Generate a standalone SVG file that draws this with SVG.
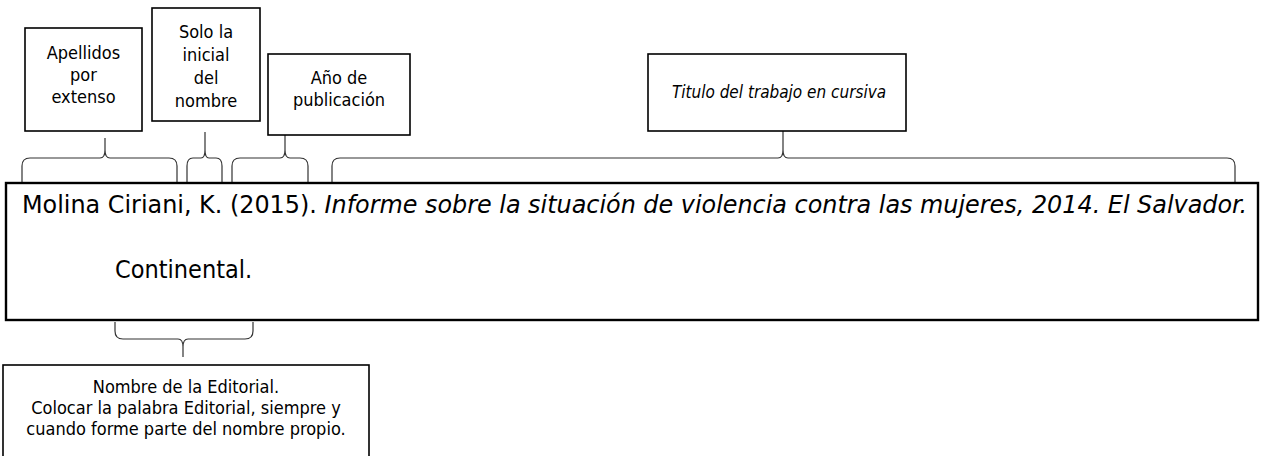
<svg xmlns="http://www.w3.org/2000/svg" width="1262" height="456" viewBox="0 0 1262 456">
<style>
.box{fill:#fff;stroke:#000;stroke-width:1.6}
.main{fill:#fff;stroke:#000;stroke-width:2.4}
.lbl{font-family:"DejaVu Sans Condensed","DejaVu Sans",sans-serif;font-size:18px;fill:#000;text-anchor:middle}
.ed{font-size:18px}
.ti{font-size:17px;font-style:italic}
.it{font-style:italic}
.brace{fill:none;stroke:#333;stroke-width:1.2}
.txt{font-family:"DejaVu Sans Condensed","DejaVu Sans",sans-serif;font-size:25px;fill:#000}
</style>
<rect width="1262" height="456" fill="#fff"/>
<g id="connectors">
<path class="brace" d="M22,182 L22,166 Q22,158 30,158 L100,158 Q105,158 105,150 L105,138 M105,150 Q105,158 110,158 L169,158 Q177,158 177,166 L177,182"/>
<path class="brace" d="M187,182 L187,166 Q187,158 193,158 L201,158 Q205,158 205,150 L205,132 M205,150 Q205,158 209,158 L216,158 Q222,158 222,166 L222,182"/>
<path class="brace" d="M232,182 L232,166 Q232,158 240,158 L280,158 Q285,158 285,150 L285,135 M285,150 Q285,158 290,158 L300,158 Q308,158 308,166 L308,182"/>
<path class="brace" d="M332,182 L332,166 Q332,158 340,158 L778,158 Q783,158 783,150 L783,131 M783,150 Q783,158 788,158 L1227,158 Q1235,158 1235,166 L1235,182"/>
<path class="brace" d="M115,322 L115,331 Q115,339 123,339 L178,339 Q183,339 183,347 L183,357 M183,347 Q183,339 188,339 L245,339 Q253,339 253,331 L253,322"/>
</g>
<g id="n-apellidos">
<rect class="box" x="25" y="28" width="117" height="103"/>
<text class="lbl" x="83.5" y="59">Apellidos</text>
<text class="lbl" x="83.5" y="81">por</text>
<text class="lbl" x="83.5" y="103">extenso</text>
</g>
<g id="n-inicial">
<rect class="box" x="152" y="8" width="108" height="113"/>
<text class="lbl" x="206" y="38">Solo la</text>
<text class="lbl" x="206" y="61">inicial</text>
<text class="lbl" x="206" y="84">del</text>
<text class="lbl" x="206" y="107">nombre</text>
</g>
<g id="n-anio">
<rect class="box" x="268" y="54" width="142" height="81"/>
<text class="lbl" x="339" y="84">Año de</text>
<text class="lbl" x="339" y="106">publicación</text>
</g>
<g id="n-titulo">
<rect class="box" x="648" y="54" width="258" height="77"/>
<text class="lbl ti" x="779" y="98">Titulo del trabajo en cursiva</text>
</g>
<g id="n-referencia">
<rect class="main" x="6" y="183" width="1252" height="137"/>
<text class="txt" x="22" y="213" textLength="1225" lengthAdjust="spacingAndGlyphs">Molina Ciriani, K. (2015). <tspan class="it">Informe sobre la situación de violencia contra las mujeres, 2014. El Salvador.</tspan></text>
<text class="txt" x="115" y="278">Continental.</text>
</g>
<g id="n-editorial">
<rect class="box" x="3" y="365" width="366" height="110"/>
<text class="lbl ed" x="186" y="393">Nombre de la Editorial.</text>
<text class="lbl ed" x="186" y="414">Colocar la palabra Editorial, siempre y</text>
<text class="lbl ed" x="186" y="435">cuando forme parte del nombre propio.</text>
</g>
</svg>
